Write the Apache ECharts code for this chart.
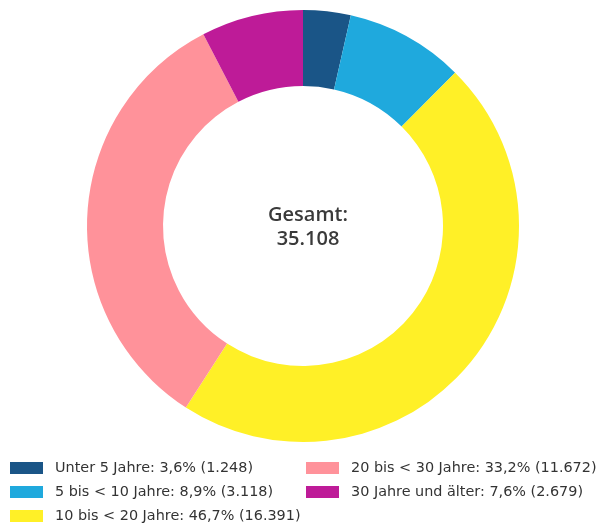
<!DOCTYPE html>
<html>
<head>
<meta charset="utf-8">
<script src="https://cdn.jsdelivr.net/npm/echarts@6/dist/echarts.min.js"></script>
<style>
  html, body { margin: 0; padding: 0; background: #fff; }
  #chart-donut { width: 601px; height: 529px; }
</style>
</head>
<body>
<div id="chart-donut"></div>
<script>
const categories = ['Unter 5 Jahre', '5 bis < 10 Jahre', '10 bis < 20 Jahre', '20 bis < 30 Jahre', '30 Jahre und älter'];
const values = [1248, 3118, 16391, 11672, 2679];
const percents = ['3,6', '8,9', '46,7', '33,2', '7,6'];
const colors = ['#1a5587', '#1fa9dd', '#fff027', '#ff929a', '#be1b98'];
const totalLabel = '35.108';

const fmt = n => n.toLocaleString('de-DE');

function legendText(name) {
    const i = categories.indexOf(name);
    return name + ': ' + percents[i] + '% (' + fmt(values[i]) + ')';
}

const element = document.getElementById('chart-donut');
const chart = echarts.init(element);

const legendBase = {
    orient: 'vertical',
    top: 461,
    height: 70,
    padding: 0,
    itemWidth: 33,
    itemHeight: 12,
    itemGap: 10,
    icon: 'rect',
    formatter: legendText,
    textStyle: { fontFamily: 'DejaVu Sans', fontSize: 14.4, color: '#333', lineHeight: 14, padding: [0, 0, 0, 7] }
};

var option = {
    color: colors,
    title: {
        text: 'Gesamt:\n' + totalLabel,
        left: 303,
        top: 222,
        textAlign: 'center',
        textVerticalAlign: 'middle',
        textStyle: { fontFamily: 'Open Sans', fontSize: 20, fontWeight: 600, color: '#3a3a3a', lineHeight: 24 }
    },
    legend: [
        Object.assign({}, legendBase, { left: 10, data: categories.slice(0, 3) }),
        Object.assign({}, legendBase, { left: 306, data: categories.slice(3) })
    ],
    series: [
        {
            type: 'pie',
            center: [303, 226],
            radius: [140, 216],
            startAngle: 90,
            clockwise: true,
            label: { show: false },
            labelLine: { show: false },
            silent: true,
            data: categories.map((c, i) => ({ name: c, value: values[i] }))
        }
    ]
};

option && chart.setOption(option);
</script>
</body>
</html>
